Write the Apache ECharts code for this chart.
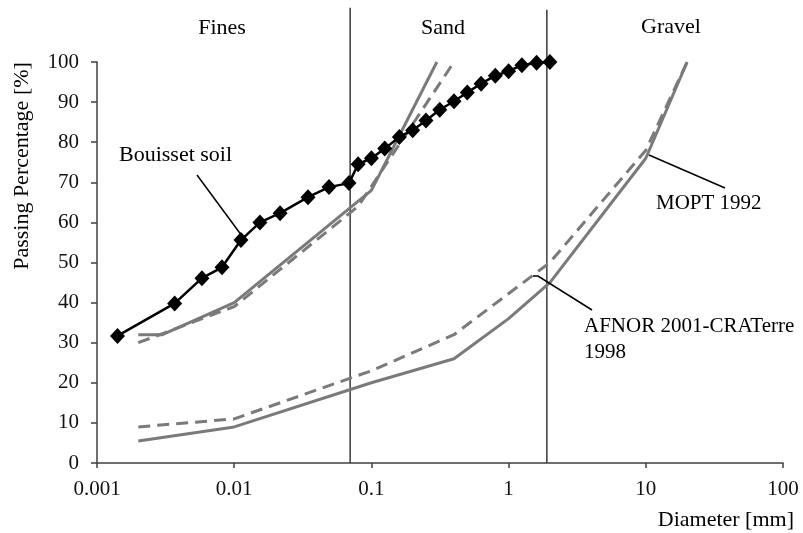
<!DOCTYPE html>
<html>
<head>
<meta charset="utf-8">
<script src="https://cdn.jsdelivr.net/npm/echarts@6/dist/echarts.min.js"></script>
<style>html,body{margin:0;padding:0;background:#fff}#c{width:803px;height:533px}</style>
</head>
<body>
<div id="c"></div>
<script>
// ---- data ----
const xTickLabels = ['0.001', '0.01', '0.1', '1', '10', '100'];
const bouissetD = [0.00141, 0.00368, 0.00582, 0.00815, 0.0112, 0.0154, 0.0216, 0.0345, 0.0491, 0.0687,
  0.08, 0.1, 0.125, 0.16, 0.2, 0.25, 0.315, 0.4, 0.5, 0.63, 0.8, 1, 1.25, 1.6, 2];
const bouissetP = [31.7, 39.8, 46.1, 48.8, 55.6, 60.0, 62.3, 66.3, 68.8, 69.8,
  74.5, 76.0, 78.4, 81.3, 83.0, 85.4, 88.1, 90.2, 92.4, 94.6, 96.6, 97.7, 99.2, 99.8, 100];
const mopUpperD = [0.002, 0.003, 0.01, 0.1, 0.3];
const mopUpperP = [32, 32, 40, 68, 100];
const mopLowerD = [0.002, 0.01, 0.1, 0.4, 1, 2, 10, 20];
const mopLowerP = [5.5, 9, 20, 26, 36, 45, 76, 100];
const afnUpperD = [0.002, 0.01, 0.08, 0.4];
const afnUpperP = [30, 39, 64, 100];
const afnLowerD = [0.002, 0.01, 0.1, 0.4, 2, 10, 20];
const afnLowerP = [9, 11, 23, 32, 50, 78, 100];
const separatorD = [0.07, 1.9];
const separatorTop = [113.5, 113];
const zoneNames = ['Fines', 'Sand', 'Gravel'];

const zip = (a, b) => a.map((v, i) => [v, b[i]]);
const FONT = '"Liberation Serif", "Times New Roman", serif';
const grey = '#7a7a7a';
const TXT = '22px ' + FONT;
const TXT2 = '21px ' + FONT;

const chart = echarts.init(document.getElementById('c'), null, {renderer: 'canvas'});
const curve = (name, d, p, dashed) => ({
  name, type: 'line', data: zip(d, p), symbol: 'none', silent: true,
  lineStyle: {color: grey, width: 3, type: dashed ? [12, 7] : 'solid'}, z: 2
});
const sepSeries = separatorD.map((d, i) => ({
  type: 'line', data: [[d, 0], [d, separatorTop[i]]], symbol: 'none', clip: false, silent: true,
  lineStyle: {color: '#3a3a3a', width: 1.5}, z: 1
}));

chart.setOption({
  animation: false,
  backgroundColor: '#fff',
  grid: {left: 97, right: 20, top: 62, bottom: 70},
  xAxis: {
    type: 'log', logBase: 10, min: 0.001, max: 100,
    axisLine: {lineStyle: {color: '#404040', width: 1.5}},
    axisTick: {show: true, length: 5, lineStyle: {color: '#404040', width: 1.5}},
    splitLine: {show: false}, minorTick: {show: false},
    axisLabel: {
      margin: 16, color: '#111', fontFamily: FONT, fontSize: 21,
      formatter: v => xTickLabels[Math.round(Math.log10(v)) + 3]
    }
  },
  yAxis: {
    type: 'value', min: 0, max: 100, interval: 10,
    axisLine: {show: true, lineStyle: {color: '#404040', width: 1.5}},
    axisTick: {show: true, length: 6, lineStyle: {color: '#404040', width: 1.5}},
    splitLine: {show: false},
    axisLabel: {margin: 18, color: '#111', fontFamily: FONT, fontSize: 21}
  },
  series: [
    ...sepSeries,
    curve('MOPT 1992 upper', mopUpperD, mopUpperP, false),
    curve('MOPT 1992 lower', mopLowerD, mopLowerP, false),
    curve('AFNOR upper', afnUpperD, afnUpperP, true),
    curve('AFNOR lower', afnLowerD, afnLowerP, true),
    {
      name: 'Bouisset soil', type: 'line', data: zip(bouissetD, bouissetP),
      symbol: 'diamond', symbolSize: [15, 16], showAllSymbol: true, silent: true,
      itemStyle: {color: '#000'}, lineStyle: {color: '#000', width: 2.5}, z: 5
    }
  ],
  graphic: [
    {type: 'text', x: 222, y: 28, style: {text: zoneNames[0], font: TXT, fill: '#000', textAlign: 'center', textVerticalAlign: 'middle'}},
    {type: 'text', x: 443, y: 28, style: {text: zoneNames[1], font: TXT, fill: '#000', textAlign: 'center', textVerticalAlign: 'middle'}},
    {type: 'text', x: 671, y: 27, style: {text: zoneNames[2], font: TXT, fill: '#000', textAlign: 'center', textVerticalAlign: 'middle'}},
    {type: 'text', x: 22, y: 166, rotation: Math.PI / 2, style: {text: 'Passing Percentage [%]', font: TXT, fill: '#000', textAlign: 'center', textVerticalAlign: 'middle'}},
    {type: 'text', x: 794, y: 520, style: {text: 'Diameter [mm]', font: TXT, fill: '#000', textAlign: 'right', textVerticalAlign: 'middle'}},
    {type: 'text', x: 119, y: 155, style: {text: 'Bouisset soil', font: TXT, fill: '#000', textAlign: 'left', textVerticalAlign: 'middle'}},
    {type: 'line', shape: {x1: 197, y1: 175, x2: 242, y2: 236}, style: {stroke: '#000', lineWidth: 1.5}, z: 10},
    {type: 'text', x: 656, y: 203, style: {text: 'MOPT 1992', font: TXT2, fill: '#000', textAlign: 'left', textVerticalAlign: 'middle'}},
    {type: 'line', shape: {x1: 649, y1: 155, x2: 725, y2: 188}, style: {stroke: '#000', lineWidth: 1.5}, z: 10},
    {type: 'text', x: 584, y: 326, style: {text: 'AFNOR 2001-CRATerre', font: TXT2, fill: '#000', textAlign: 'left', textVerticalAlign: 'middle'}},
    {type: 'text', x: 584, y: 352, style: {text: '1998', font: TXT2, fill: '#000', textAlign: 'left', textVerticalAlign: 'middle'}},
    {type: 'polyline', shape: {points: [[533, 276], [538, 276], [592, 310]]}, style: {stroke: '#000', lineWidth: 1.5, fill: null}, z: 10}
  ]
});
</script>
</body>
</html>
